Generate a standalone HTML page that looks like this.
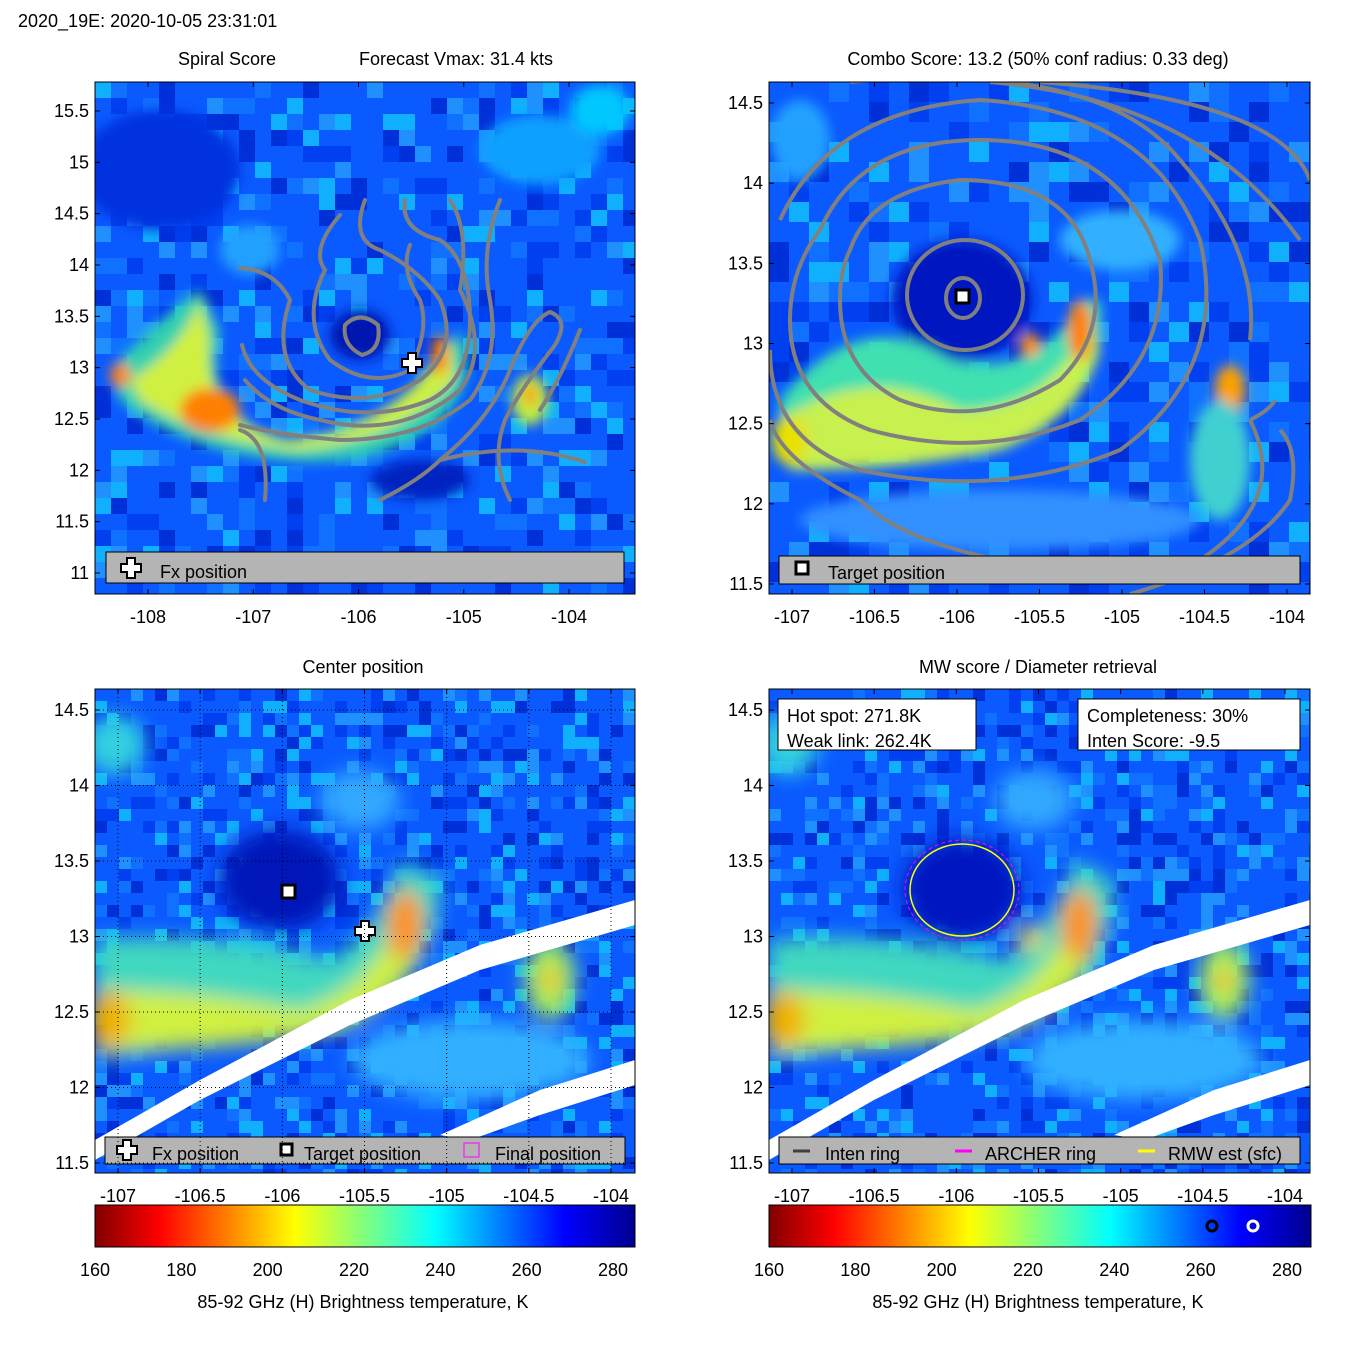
<!DOCTYPE html>
<html><head><meta charset="utf-8"><style>
body{margin:0;background:#fff}
svg{display:block;font-family:"Liberation Sans",sans-serif}
text{font-size:18px;fill:#000}
</style></head><body>
<svg id="c" width="1350" height="1350" viewBox="0 0 1350 1350">
<defs>
<linearGradient id="jet" x1="0" x2="1" y1="0" y2="0">
<stop offset="0" stop-color="#800000"/><stop offset="0.12" stop-color="#ff0000"/><stop offset="0.37" stop-color="#ffff00"/><stop offset="0.5" stop-color="#80ff80"/><stop offset="0.63" stop-color="#00ffff"/><stop offset="0.87" stop-color="#0000ff"/><stop offset="1" stop-color="#00008f"/>
</linearGradient>
<filter id="b1" x="-50%" y="-50%" width="200%" height="200%"><feGaussianBlur stdDeviation="6"/></filter>
<filter id="b2" x="-50%" y="-50%" width="200%" height="200%"><feGaussianBlur stdDeviation="10"/></filter>
<clipPath id="cp1"><rect x="95" y="82" width="540" height="512"/></clipPath>
<clipPath id="cp2"><rect x="769" y="82" width="541" height="512"/></clipPath>
<clipPath id="cp3"><rect x="95" y="689" width="540" height="484"/></clipPath>
<clipPath id="cp4"><rect x="769" y="689" width="541" height="484"/></clipPath>
</defs>
<text x="18" y="27">2020_19E: 2020-10-05 23:31:01</text>
<text x="227" y="65" text-anchor="middle">Spiral Score</text>
<text x="456" y="65" text-anchor="middle">Forecast Vmax: 31.4 kts</text>
<text x="1038" y="65" text-anchor="middle">Combo Score: 13.2  (50% conf radius: 0.33 deg)</text>
<text x="363" y="673" text-anchor="middle">Center position</text>
<text x="1038" y="673" text-anchor="middle">MW score / Diameter retrieval</text>

<!-- Panel 1 -->
<g clip-path="url(#cp1)">
<rect x="95" y="82" width="540" height="512" fill="#0a5aff"/>
<g id="tex1"></g>
<g filter="url(#b1)">
<ellipse cx="160" cy="170" rx="80" ry="60" fill="#0030e0"/>
<ellipse cx="540" cy="150" rx="60" ry="35" fill="#10a0ff"/>
<ellipse cx="600" cy="110" rx="30" ry="25" fill="#00c8ff"/>
<ellipse cx="250" cy="250" rx="30" ry="25" fill="#20a0ff"/>
<path d="M110 370 Q180 300 200 290 L220 330 Q200 420 290 440 Q380 430 440 360 L460 330 Q480 380 440 420 Q380 470 280 460 Q180 450 120 400Z" fill="#30d0b0"/>
<path d="M130 380 Q180 350 200 300 L210 340 Q200 410 280 440 Q360 440 420 380 L450 340 L455 380 Q400 440 300 450 Q200 440 140 400Z" fill="#d0f040"/>
<ellipse cx="210" cy="410" rx="30" ry="22" fill="#ff8000"/>
<ellipse cx="120" cy="375" rx="10" ry="12" fill="#ff8000"/>
<ellipse cx="440" cy="355" rx="8" ry="20" fill="#ff8000"/>
<ellipse cx="530" cy="400" rx="18" ry="25" fill="#c0f040"/>
<ellipse cx="530" cy="395" rx="6" ry="12" fill="#ff9000"/>
<ellipse cx="360" cy="335" rx="30" ry="25" fill="#0018b0"/>
<ellipse cx="420" cy="480" rx="50" ry="20" fill="#0020c0"/>
</g>
<g fill="none" stroke="#808080" stroke-width="4" stroke-linecap="round">
<path d="M345 325 Q360 310 378 325 Q382 350 362 355 Q342 345 345 325Z"/>
<path d="M340 215 Q310 250 325 270 Q300 320 330 360 Q370 390 410 370 Q430 330 420 300 Q400 270 410 245"/>
<path d="M365 200 Q350 240 380 250 Q420 270 440 300 Q460 350 420 380 Q370 410 310 390 Q270 360 290 300 Q275 270 240 268"/>
<path d="M405 200 Q400 230 440 240 Q470 260 470 320 Q470 380 430 400 Q370 425 300 400 Q250 380 242 345"/>
<path d="M450 200 Q470 230 460 290 Q490 350 460 390 Q400 440 320 420 Q270 410 245 380"/>
<path d="M500 200 Q480 250 490 300 Q500 360 470 400 Q420 440 340 440 Q280 435 240 425 M240 430 Q270 440 265 500"/>
<path d="M380 500 Q420 480 440 460 Q490 420 510 370 Q530 320 550 312 Q570 320 555 345 Q520 390 505 420 Q490 460 510 500"/>
<path d="M580 330 Q560 380 540 410 M440 460 Q520 440 585 462"/>
</g>
</g>
<rect x="95" y="82" width="540" height="512" fill="none" stroke="#000"/>
<g>
<rect x="106" y="552" width="518" height="31" fill="#b4b4b4" stroke="#000"/>
<path d="M127 558h8v6h6v8h-6v6h-8v-6h-6v-8h6z" fill="#fff" stroke="#000" stroke-width="2"/>
<text x="160" y="578">Fx position</text>
</g>
<path d="M408 353h8v6h6v8h-6v6h-8v-6h-6v-8h6z" fill="#fff" stroke="#000" stroke-width="2"/>

<!-- Panel 2 -->
<g clip-path="url(#cp2)">
<rect x="769" y="82" width="541" height="512" fill="#0a5aff"/>
<g id="tex2"></g>
<g filter="url(#b1)">
<ellipse cx="962" cy="300" rx="70" ry="60" fill="#0018c0"/>
<ellipse cx="800" cy="140" rx="30" ry="40" fill="#20a0ff"/>
<path d="M780 400 Q860 300 950 360 Q1040 380 1080 300 L1100 300 Q1110 400 1020 440 Q900 470 780 460Z" fill="#40e0b0"/>
<path d="M780 420 Q870 360 960 410 Q1050 410 1090 320 L1100 350 Q1080 420 1000 450 Q900 470 790 470Z" fill="#c8f050"/>
<ellipse cx="1080" cy="330" rx="12" ry="30" fill="#ff8000"/>
<ellipse cx="1030" cy="345" rx="10" ry="12" fill="#ff9000"/>
<ellipse cx="790" cy="440" rx="18" ry="25" fill="#e8e000"/>
<ellipse cx="1230" cy="390" rx="15" ry="25" fill="#ffa000"/>
<ellipse cx="1220" cy="460" rx="30" ry="60" fill="#40d0d0"/>
<ellipse cx="1120" cy="240" rx="60" ry="30" fill="#30b0ff"/>
<ellipse cx="1000" cy="520" rx="200" ry="30" fill="#3090ff"/>
</g>
<g fill="none" stroke="#808080" stroke-width="4">
<ellipse cx="963" cy="298" rx="17" ry="20"/>
<ellipse cx="965" cy="295" rx="58" ry="55"/>
<path d="M850 250 Q870 190 960 180 Q1070 180 1090 260 Q1110 330 1060 380 Q980 430 900 400 Q840 370 840 300 Q840 270 850 250Z"/>
<path d="M820 230 Q860 140 980 140 Q1120 140 1160 260 Q1170 360 1080 420 Q980 460 870 430 Q790 400 790 320 Q790 270 820 230Z"/>
<path d="M780 220 Q830 110 980 100 Q1150 110 1200 240 Q1230 370 1120 450 Q1000 500 860 470 Q770 440 770 350"/>
<path d="M850 82 Q1100 60 1180 160 Q1260 250 1250 340 M1250 420 Q1290 500 1200 560 Q1050 600 1000 560 Q900 540 860 500 Q780 460 770 420"/>
<path d="M990 82 Q1200 100 1300 240 M1040 82 Q1280 100 1310 180 M1130 594 Q1250 560 1290 500 Q1300 450 1280 430"/>
<path d="M1250 420 Q1270 410 1275 400"/>
</g>
</g>
<rect x="769" y="82" width="541" height="512" fill="none" stroke="#000"/>
<rect x="956" y="290" width="13" height="13" fill="#fff" stroke="#000" stroke-width="3"/>
<g>
<rect x="779" y="556" width="521" height="28" fill="#b4b4b4" stroke="#000"/>
<rect x="796" y="562" width="12" height="12" fill="#fff" stroke="#000" stroke-width="3"/>
<text x="828" y="579">Target position</text>
</g>

<!-- Panel 3 -->
<g clip-path="url(#cp3)">
<rect x="95" y="689" width="540" height="484" fill="#0a5aff"/>
<g id="tex3"></g>
<g filter="url(#b2)">
<ellipse cx="280" cy="880" rx="60" ry="50" fill="#0018b8"/>
<ellipse cx="115" cy="745" rx="30" ry="30" fill="#30d0e0"/>
<path d="M95 940 Q200 930 330 960 Q380 930 400 860 L440 880 Q440 980 360 1010 Q250 1040 95 1060Z" fill="#40d8c0"/>
<path d="M95 990 Q200 990 300 1010 Q360 990 380 950 L420 930 Q420 990 340 1030 Q230 1050 95 1050Z" fill="#d0f040"/>
<ellipse cx="405" cy="925" rx="18" ry="35" fill="#ff9000"/>
<ellipse cx="110" cy="1020" rx="20" ry="30" fill="#f0b000"/>
<ellipse cx="550" cy="980" rx="25" ry="40" fill="#a0f060"/>
<ellipse cx="550" cy="980" rx="8" ry="15" fill="#ffb000"/>
<ellipse cx="470" cy="1060" rx="120" ry="40" fill="#30b0ff"/>
<ellipse cx="360" cy="800" rx="40" ry="30" fill="#30a8ff"/>
</g>
<g fill="#fff">
<path d="M95 1140 L200 1080 L350 1000 L480 945 L635 900 L635 925 L480 970 L350 1025 L200 1100 L95 1160Z"/>
<path d="M440 1135 L540 1090 L635 1060 L635 1085 L540 1115 L470 1140Z"/>
</g>
</g>
<rect x="95" y="689" width="540" height="484" fill="none" stroke="#000"/>
<rect x="282" y="885" width="13" height="13" fill="#fff" stroke="#000" stroke-width="3"/>
<path d="M361 921h8v6h6v8h-6v6h-8v-6h-6v-8h6z" fill="#fff" stroke="#000" stroke-width="2"/>
<g>
<rect x="105" y="1137" width="520" height="27" fill="#b4b4b4" stroke="#000"/>
<path d="M123 1140h8v6h6v8h-6v6h-8v-6h-6v-8h6z" fill="#fff" stroke="#000" stroke-width="2"/>
<text x="152" y="1160">Fx position</text>
<rect x="281" y="1144" width="11" height="11" fill="#fff" stroke="#000" stroke-width="3"/>
<text x="304" y="1160">Target position</text>
<rect x="464" y="1143" width="15" height="14" fill="none" stroke="#ff00ff"/>
<text x="495" y="1160">Final position</text>
</g>

<!-- Panel 4 -->
<g clip-path="url(#cp4)">
<rect x="769" y="689" width="541" height="484" fill="#0a5aff"/>
<g id="tex4"></g>
<g filter="url(#b2)">
<ellipse cx="789" cy="745" rx="30" ry="30" fill="#30d0e0"/>
<path d="M769 940 Q874 930 1004 960 Q1054 930 1074 860 L1114 880 Q1114 980 1034 1010 Q924 1040 769 1060Z" fill="#40d8c0"/>
<path d="M769 990 Q874 990 974 1010 Q1034 990 1054 950 L1094 930 Q1094 990 1014 1030 Q904 1050 769 1050Z" fill="#d0f040"/>
<ellipse cx="1079" cy="925" rx="18" ry="35" fill="#ff9000"/>
<ellipse cx="1030" cy="938" rx="12" ry="12" fill="#f0d000"/>
<ellipse cx="784" cy="1020" rx="20" ry="30" fill="#f0b000"/>
<ellipse cx="1224" cy="980" rx="25" ry="40" fill="#a0f060"/>
<ellipse cx="1224" cy="980" rx="8" ry="15" fill="#ffb000"/>
<ellipse cx="1144" cy="1060" rx="120" ry="40" fill="#30b0ff"/>
<ellipse cx="1034" cy="800" rx="40" ry="30" fill="#30a8ff"/>
<ellipse cx="962" cy="890" rx="60" ry="52" fill="#0014c0"/>
</g>
<g fill="#fff">
<path d="M769 1140 L874 1080 L1024 1000 L1154 945 L1310 900 L1310 925 L1154 970 L1024 1025 L874 1100 L769 1160Z"/>
<path d="M1114 1135 L1214 1090 L1310 1060 L1310 1085 L1214 1115 L1144 1140Z"/>
</g>
</g>
<rect x="769" y="689" width="541" height="484" fill="none" stroke="#000"/>
<ellipse cx="962" cy="890" rx="57" ry="50" fill="none" stroke="#ff00ff" stroke-dasharray="4 3"/>
<ellipse cx="962" cy="890" rx="52" ry="46" fill="none" stroke="#ffff00" stroke-width="1.5"/>
<g>
<rect x="778" y="699" width="198" height="51" fill="#fff" stroke="#000"/>
<text x="787" y="722">Hot spot: 271.8K</text><text x="787" y="747">Weak link: 262.4K</text>
</g>
<g>
<rect x="1078" y="699" width="222" height="51" fill="#fff" stroke="#000"/>
<text x="1087" y="722">Completeness: 30%</text><text x="1087" y="747">Inten Score: -9.5</text>
</g>
<g>
<rect x="779" y="1137" width="521" height="27" fill="#b4b4b4" stroke="#000"/>
<line x1="793" y1="1151" x2="810" y2="1151" stroke="#404040" stroke-width="3"/>
<text x="825" y="1160">Inten ring</text>
<line x1="955" y1="1151" x2="972" y2="1151" stroke="#ff00ff" stroke-width="3"/>
<text x="985" y="1160">ARCHER ring</text>
<line x1="1138" y1="1151" x2="1155" y2="1151" stroke="#ffff00" stroke-width="3"/>
<text x="1168" y="1160">RMW est (sfc)</text>
</g>

<rect x="95" y="1205" width="540" height="42" fill="url(#jet)" stroke="#000"/>
<rect x="769" y="1205" width="542" height="42" fill="url(#jet)" stroke="#000"/>
<circle cx="1212" cy="1226" r="5" fill="none" stroke="#000" stroke-width="3"/>
<circle cx="1253" cy="1226" r="5" fill="none" stroke="#fff" stroke-width="3"/>
<text x="363" y="1308" text-anchor="middle">85-92 GHz (H) Brightness temperature, K</text>
<text x="1038" y="1308" text-anchor="middle">85-92 GHz (H) Brightness temperature, K</text>
<g id="axes"></g>
</svg>
<script>
const p1XTicks=[-108,-107,-106,-105,-104];
const p1YTicks=[15.5,15,14.5,14,13.5,13,12.5,12,11.5,11];
const p2XTicks=[-107,-106.5,-106,-105.5,-105,-104.5,-104];
const p2YTicks=[14.5,14,13.5,13,12.5,12,11.5];
const p3XTicks=[-107,-106.5,-106,-105.5,-105,-104.5,-104];
const p3YTicks=[14.5,14,13.5,13,12.5,12,11.5];
const cbTicks=[160,180,200,220,240,260,280];
const NS='http://www.w3.org/2000/svg';
const axes=document.getElementById('axes');
// pixel texture (decorative speckle)
let seed=7;function rnd(){seed=(seed*16807)%2147483647;return seed/2147483647;}
function texture(id,x0,y0,w,h,cell){const g=document.getElementById(id);const cols=['#0040f0','#1070ff','#2090ff','#0030d8','#10b0ff'];
for(let y=y0;y<y0+h;y+=cell)for(let x=x0;x<x0+w;x+=cell){if(rnd()<0.45){const r=document.createElementNS(NS,'rect');r.setAttribute('x',x);r.setAttribute('y',y);r.setAttribute('width',cell);r.setAttribute('height',cell);r.setAttribute('fill',cols[Math.floor(rnd()*cols.length)]);


g.appendChild(r);}}}
texture('tex1',95,82,540,512,16);
texture('tex2',769,82,541,512,20);
texture('tex3',95,689,540,484,12);
texture('tex4',769,689,541,484,12);
function lin(d0,d1,r0,r1){return v=>r0+(v-d0)*(r1-r0)/(d1-d0);}
function txt(x,y,s,anchor,name){const t=document.createElementNS(NS,'text');t.setAttribute('x',x);t.setAttribute('y',y);t.setAttribute('text-anchor',anchor);t.textContent=s;


axes.appendChild(t);}
function tick(x1,y1,x2,y2){const l=document.createElementNS(NS,'line');l.setAttribute('x1',x1);l.setAttribute('y1',y1);l.setAttribute('x2',x2);l.setAttribute('y2',y2);l.setAttribute('stroke','#000');


axes.appendChild(l);}
function gl(x1,y1,x2,y2){const l=document.createElementNS(NS,'line');l.setAttribute('x1',x1);l.setAttribute('x2',x2);l.setAttribute('y1',y1);l.setAttribute('y2',y2);l.setAttribute('stroke','#000');l.setAttribute('stroke-dasharray','1 3');


axes.appendChild(l);}
function panel(xt,yt,xs,ys,left,right,top,bottom,grid){
 xt.forEach(v=>{const x=xs(v);txt(x,bottom+29,String(v),'middle','x-tick-label');tick(x,bottom,x,bottom-5);tick(x,top,x,top+5);
  if(grid)gl(x,top,x,bottom);});
 yt.forEach(v=>{const y=ys(v);txt(left-6,y+6,String(v),'end','y-tick-label');tick(left,y,left+5,y);tick(right,y,right-5,y);
  if(grid)gl(left,y,right,y);});
}
panel(p1XTicks,p1YTicks,lin(-108,-104,148,569),lin(15.5,11,111,573),95,635,82,594,false);
panel(p2XTicks,p2YTicks,lin(-107,-104,792,1287),lin(14.5,11.5,103,584),769,1310,82,594,false);
panel(p3XTicks,p3YTicks,lin(-107,-104,118,611),lin(14.5,11.5,710,1163),95,635,689,1173,true);
panel(p3XTicks,p3YTicks,lin(-107,-104,792,1285),lin(14.5,11.5,710,1163),769,1310,689,1173,false);
const cb1=lin(160,280,95,613),cb2=lin(160,280,769,1287);
cbTicks.forEach(v=>{txt(cb1(v),1276,String(v),'middle','colorbar-tick-label');txt(cb2(v),1276,String(v),'middle','colorbar-tick-label');});
</script>
</body></html>
